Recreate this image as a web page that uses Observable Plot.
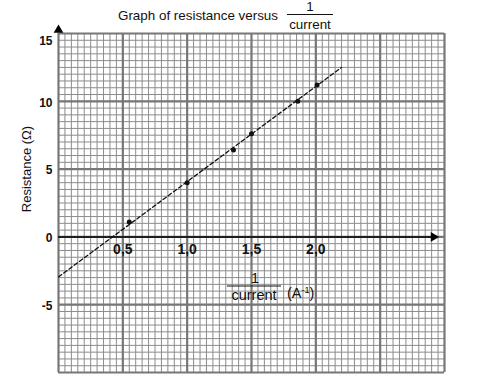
<!DOCTYPE html>
<html><head><meta charset="utf-8">
<script src="https://cdn.jsdelivr.net/npm/d3@7"></script>
<script src="https://cdn.jsdelivr.net/npm/@observablehq/plot@0.6"></script>
<style>body{margin:0;background:#fff;font-family:"Liberation Sans",Arial,sans-serif}</style>
</head><body><div id="chart"></div>
<script>
// Data
const invCurrent = [0.55, 1.0, 1.36, 1.5, 1.86, 2.01];
const resistance = [1.1, 4.0, 6.4, 7.6, 10.0, 11.2];
const fitX = [0, 2.2];
const fitY = [-2.95, 12.5];
const xTickValues = [0.5, 1.0, 1.5, 2.0];
const xTickLabels = ["0,5", "1,0", "1,5", "2,0"];
const yTickValues = [15, 10, 5, 0, -5];
const yTickLabels = ["15", "10", "5", "0", "-5"];

const points = invCurrent.map((x, i) => ({x, y: resistance[i]}));
const fit = fitX.map((x, i) => ({x, y: fitY[i]}));
const xt = xTickValues.map((v, i) => ({v, label: xTickLabels[i]}));
const yt = yTickValues.map((v, i) => ({v, label: yTickLabels[i]}));

const minorX = d3.range(0, 61).map(i => i * 0.05);
const majorX = d3.range(0, 7).map(i => i * 0.5);
const minorY = d3.range(0, 51).map(i => -10 + i * 0.5);
const majorY = d3.range(0, 6).map(i => -10 + i * 5);

const font = '"Liberation Sans", Arial, sans-serif';

const plot = Plot.plot({
  width: 503, height: 387,
  marginLeft: 58, marginRight: 59, marginTop: 33, marginBottom: 15,
  x: {domain: [0, 3], axis: null},
  y: {domain: [-10, 15], axis: null},
  style: {background: "#fff", fontFamily: font, overflow: "visible"},
  marks: [
    Plot.ruleX(minorX, {stroke: "#8c8c8c", strokeWidth: 1}),
    Plot.ruleY(minorY, {stroke: "#8c8c8c", strokeWidth: 1}),
    Plot.ruleX(majorX, {stroke: "#777", strokeWidth: 2.2}),
    Plot.ruleY(majorY, {stroke: "#777", strokeWidth: 2.2}),
    Plot.text(xt, {x: "v", y: 0, text: "label", dy: 13, fontWeight: "bold", fontSize: 14, fill: "#111"}),
    Plot.ruleY([0], {x1: 0, x2: 2.92, stroke: "#000", strokeWidth: 1.5}),
    Plot.dot([{x: 2.915, y: 0}], {x: "x", y: "y", symbol: "triangle", rotate: 90, r: 3.6, fill: "#000", stroke: "none"}),
    Plot.dot([{x: 0, y: 15}], {x: "x", y: "y", symbol: "triangle", r: 3.6, dy: -3.5, fill: "#000", stroke: "none"}),
    Plot.line(fit, {x: "x", y: "y", stroke: "#111", strokeWidth: 1.3, strokeDasharray: "4,2.5"}),
    Plot.dot(points, {x: "x", y: "y", r: 2.5, fill: "#111", stroke: "none"}),
    Plot.text(yt.filter(d => d.v !== 15), {x: 0, y: "v", text: "label", dx: -6, dy: 1.5, textAnchor: "end", fontWeight: "bold", fontSize: 12, fill: "#111"}),
    Plot.text(yt.filter(d => d.v === 15), {x: 0, y: "v", text: "label", dx: -6, dy: 7.5, textAnchor: "end", fontWeight: "bold", fontSize: 12, fill: "#111"})
  ]
});
document.getElementById("chart").appendChild(plot);

const svg = d3.select(plot);
const g = svg.append("g").attr("font-family", font).attr("fill", "#111").attr("text-anchor", "start");
// Title
g.append("text").attr("x", 118).attr("y", 19.5).attr("font-size", 13.4).attr("text-anchor", "start").text("Graph of resistance versus");
g.append("text").attr("x", 310).attr("y", 11).attr("font-size", 13.4).attr("text-anchor", "middle").text("1");
g.append("line").attr("x1", 287).attr("x2", 333).attr("y1", 14.5).attr("y2", 14.5).attr("stroke", "#111").attr("stroke-width", 1);
g.append("text").attr("x", 310).attr("y", 28.5).attr("font-size", 13.4).attr("text-anchor", "middle").text("current");
// Y label
g.append("text").attr("transform", "translate(30.5,169) rotate(-90)").attr("font-size", 13).attr("text-anchor", "middle").text("Resistance (Ω)");
// X label
g.append("text").attr("x", 255).attr("y", 283).attr("font-size", 14.5).attr("text-anchor", "middle").text("1");
g.append("line").attr("x1", 227).attr("x2", 281).attr("y1", 286).attr("y2", 286).attr("stroke", "#111").attr("stroke-width", 1);
g.append("text").attr("x", 254).attr("y", 300).attr("font-size", 14.5).attr("text-anchor", "middle").text("current");
const unit = g.append("text").attr("x", 287).attr("y", 298).attr("font-size", 14.5).attr("text-anchor", "start");
unit.append("tspan").text("(A");
unit.append("tspan").attr("dy", -5).attr("font-size", 9).text("-1");
unit.append("tspan").attr("dy", 5).text(")");
</script>
</body></html>
